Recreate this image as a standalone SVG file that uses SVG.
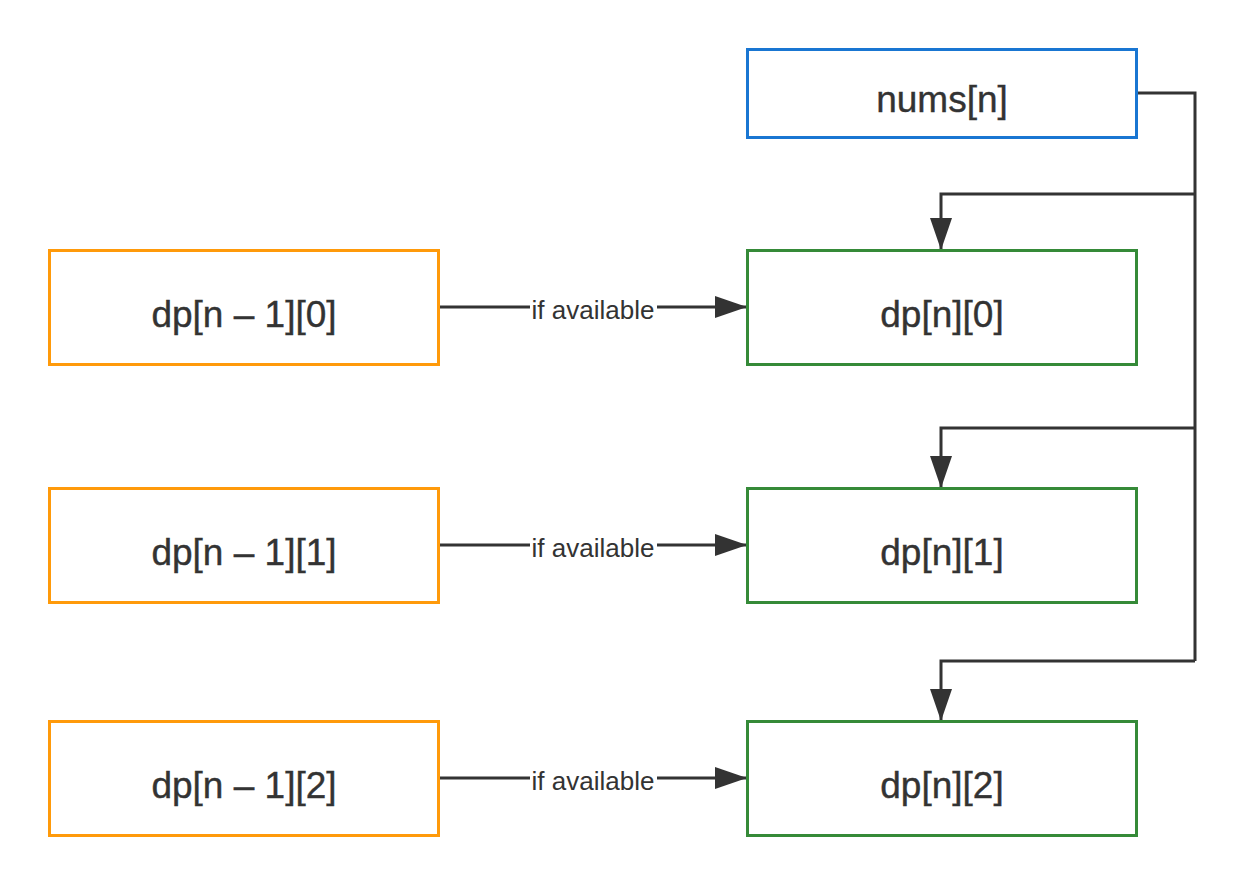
<svg xmlns="http://www.w3.org/2000/svg" width="1246" height="886" viewBox="0 0 1246 886">
<defs>
<style>
.box{fill:#fff;stroke-width:3}
.o{stroke:#FF9A0A}
.g{stroke:#358A38}
.b{stroke:#1976D2}
.t{font-family:"Liberation Sans",Arial,sans-serif;font-size:37px;fill:#333;text-anchor:middle;stroke:#333;stroke-width:0.4}
.lbl{font-family:"Liberation Sans",Arial,sans-serif;font-size:26px;fill:#333;text-anchor:middle}
.ln{fill:none;stroke:#333;stroke-width:3}
</style>
<marker id="ah" markerWidth="32" markerHeight="22" refX="32" refY="11" orient="auto" markerUnits="userSpaceOnUse">
<path d="M0,0 L32,11 L0,22 Z" fill="#333"/>
</marker>
</defs>
<rect width="1246" height="886" fill="#fff"/>
<g id="connectors">
<path class="ln" d="M1136,93 H1195 V661"/>
<path class="ln" d="M1195,194 H941 V250" marker-end="url(#ah)"/>
<path class="ln" d="M1195,428 H941 V488" marker-end="url(#ah)"/>
<path class="ln" d="M1195,661 H941 V721" marker-end="url(#ah)"/>
<path class="ln" d="M438,307 H747" marker-end="url(#ah)"/>
<path class="ln" d="M438,545 H747" marker-end="url(#ah)"/>
<path class="ln" d="M438,778 H747" marker-end="url(#ah)"/>
<g>
<rect x="530" y="293" width="127" height="30" fill="#fff"/>
<text class="lbl" x="593" y="319">if available</text>
<rect x="530" y="531" width="127" height="30" fill="#fff"/>
<text class="lbl" x="593" y="557">if available</text>
<rect x="530" y="764" width="127" height="30" fill="#fff"/>
<text class="lbl" x="593" y="790">if available</text>
</g>
</g>
<g id="nums">
<rect class="box b" x="747.5" y="49.5" width="389" height="88"/>
<text class="t" x="942" y="112">nums[n]</text>
</g>
<g id="prev0">
<rect class="box o" x="49.5" y="250.5" width="389" height="114"/>
<text class="t" x="244" y="327">dp[n – 1][0]</text>
</g>
<g id="prev1">
<rect class="box o" x="49.5" y="488.5" width="389" height="114"/>
<text class="t" x="244" y="565">dp[n – 1][1]</text>
</g>
<g id="prev2">
<rect class="box o" x="49.5" y="721.5" width="389" height="114"/>
<text class="t" x="244" y="798">dp[n – 1][2]</text>
</g>
<g id="cur0">
<rect class="box g" x="747.5" y="250.5" width="389" height="114"/>
<text class="t" x="942" y="327">dp[n][0]</text>
</g>
<g id="cur1">
<rect class="box g" x="747.5" y="488.5" width="389" height="114"/>
<text class="t" x="942" y="565">dp[n][1]</text>
</g>
<g id="cur2">
<rect class="box g" x="747.5" y="721.5" width="389" height="114"/>
<text class="t" x="942" y="798">dp[n][2]</text>
</g>
</svg>
